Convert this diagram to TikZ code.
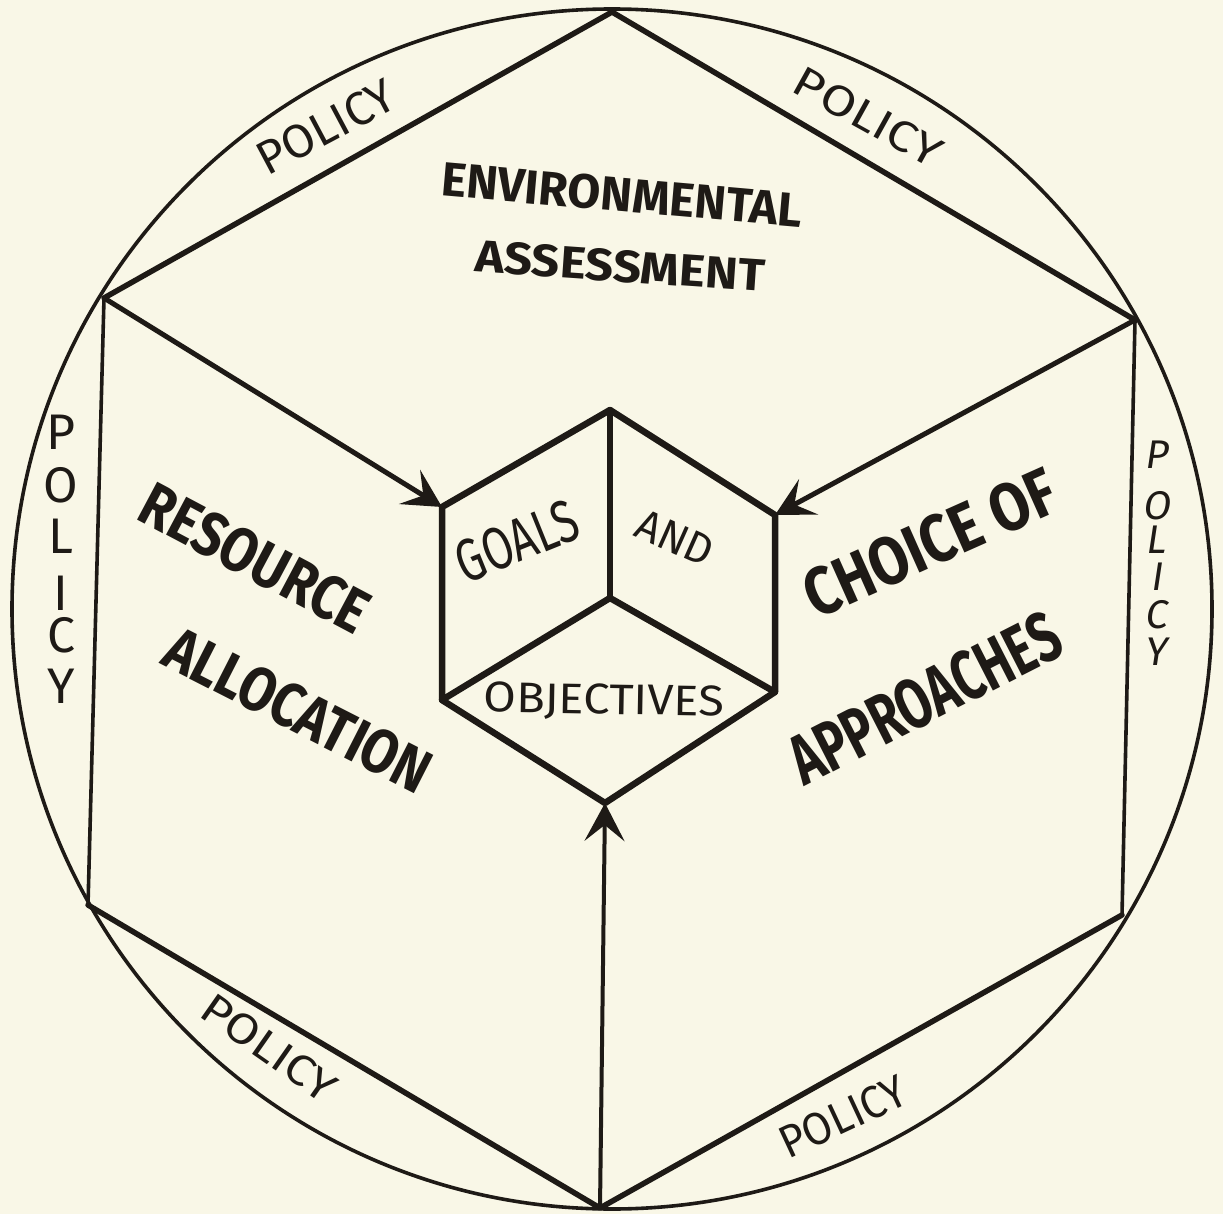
\documentclass[tikz,border=0pt]{standalone}
\usepackage{fontspec}
\usepackage{graphicx}
\setmainfont{Fira Sans}
\usetikzlibrary{arrows.meta}
\definecolor{paper}{RGB}{249,247,231}
\definecolor{ink}{RGB}{30,26,22}
\newcommand{\fitlbl}[3]{\resizebox{#1pt}{#2pt}{#3}}
\begin{document}
\begin{tikzpicture}[x=1pt,y=-1pt,
  hexthick/.style={draw=ink,line width=5.5pt,line join=round,line cap=round},
  hexthin/.style={draw=ink,line width=3.6pt,line cap=round},
  rim/.style={draw=ink,line width=3.6pt},
  cubeedge/.style={draw=ink,line width=6.5pt,line join=round,line cap=round},
  feed/.style={draw=ink,line width=5pt,-{Stealth[length=38pt,width=40pt,inset=16pt]}},
  lbl/.style={inner sep=0pt,text=ink},
  vlet/.style={inner sep=0pt,text=ink,font=\fontsize{50}{50}\selectfont},
  vletr/.style={inner sep=0pt,text=ink,font=\fontsize{40}{40}\selectfont,xslant=0.15}]
\useasboundingbox (0,0) rectangle (1223,1214);
\fill[paper] (0,0) rectangle (1223,1214);

% outer circle
\coordinate (ctr) at (612,609);
\draw[rim] (ctr) circle[radius=600pt];

% hexagon vertices
\coordinate (h1) at (612,12);
\coordinate (h2) at (104,298);
\coordinate (h3) at (88,905);
\coordinate (h4) at (600,1208);
\coordinate (h5) at (1122,915);
\coordinate (h6) at (1135,320);

\draw[hexthick] (h2) -- (h1) -- (h6);
\draw[hexthick] (h3) -- (h4) -- (h5);
\draw[hexthin] (h2) -- (h3);
\draw[hexthin] (h6) -- (h5);

% inner cube
\coordinate (ct) at (610,410);
\coordinate (cul) at (442,507);
\coordinate (cur) at (775,515);
\coordinate (cc) at (610,598);
\coordinate (cll) at (442,700);
\coordinate (clr) at (775,692);
\coordinate (cb) at (605,803);

\draw[cubeedge] (ct) -- (cul) -- (cll) -- (cb) -- (clr) -- (cur) -- cycle;
\draw[cubeedge] (ct) -- (cc);
\draw[cubeedge] (cll) -- (cc) -- (clr);

% feeding arrows
\draw[feed] (h2) -- (cul);
\draw[feed] (h6) -- (cur);
\draw[feed,line width=4pt] (h4) -- (cb);

% main labels
\node[lbl,rotate=-5] (env) at (622,195) {\fitlbl{362}{34}{\bfseries ENVIRONMENTAL}};
\node[lbl,rotate=-4] (ass) at (620,266) {\fitlbl{290}{32}{\bfseries ASSESSMENT}};
\node[lbl,rotate=-28] (res) at (255,558) {\fitlbl{250}{44}{\bfseries RESOURCE}};
\node[lbl,rotate=-27] (alo) at (298,710) {\fitlbl{290}{44}{\bfseries ALLOCATION}};
\node[lbl,rotate=24] (cho) at (930,543) {\fitlbl{270}{48}{\bfseries CHOICE OF}};
\node[lbl,rotate=27] (app) at (925,698) {\fitlbl{295}{50}{\bfseries APPROACHES}};

% cube labels
\node[lbl,rotate=22] (goals) at (517,541) {\fitlbl{128}{42}{GOALS}};
\node[lbl,rotate=-24] (and) at (675,538) {\fitlbl{80}{30}{AND}};
\node[lbl,rotate=-1] (obj) at (604,702) {\fitlbl{240}{30}{OBJECTIVES}};

% policy labels along the rim
\node[lbl,rotate=28] (ptl) at (326,127) {\fitlbl{150}{33}{POLICY}};
\node[lbl,rotate=-29] (ptr) at (868,117) {\fitlbl{162}{30}{POLICY}};
\node[lbl,rotate=-35] (pbl) at (269,1048) {\fitlbl{155}{30}{POLICY}};
\node[lbl,rotate=25] (pbr) at (843,1117) {\fitlbl{135}{32}{POLICY}};

% vertical policy, left
\node[vlet] (lp) at (61,432) {P};
\node[vlet] (lo) at (61,485) {O};
\node[vlet] (ll) at (61,536) {L};
\node[vlet] (li) at (61,593) {I};
\node[vlet] (lc) at (61,635) {C};
\node[vlet] (ly) at (61,686) {Y};

% vertical policy, right
\node[vletr] (rp) at (1158,455) {P};
\node[vletr] (ro) at (1158,506) {O};
\node[vletr] (rl) at (1158,540) {L};
\node[vletr] (ri) at (1158,577) {I};
\node[vletr] (rc) at (1158,615) {C};
\node[vletr] (ry) at (1158,652) {Y};
\end{tikzpicture}
\end{document}
